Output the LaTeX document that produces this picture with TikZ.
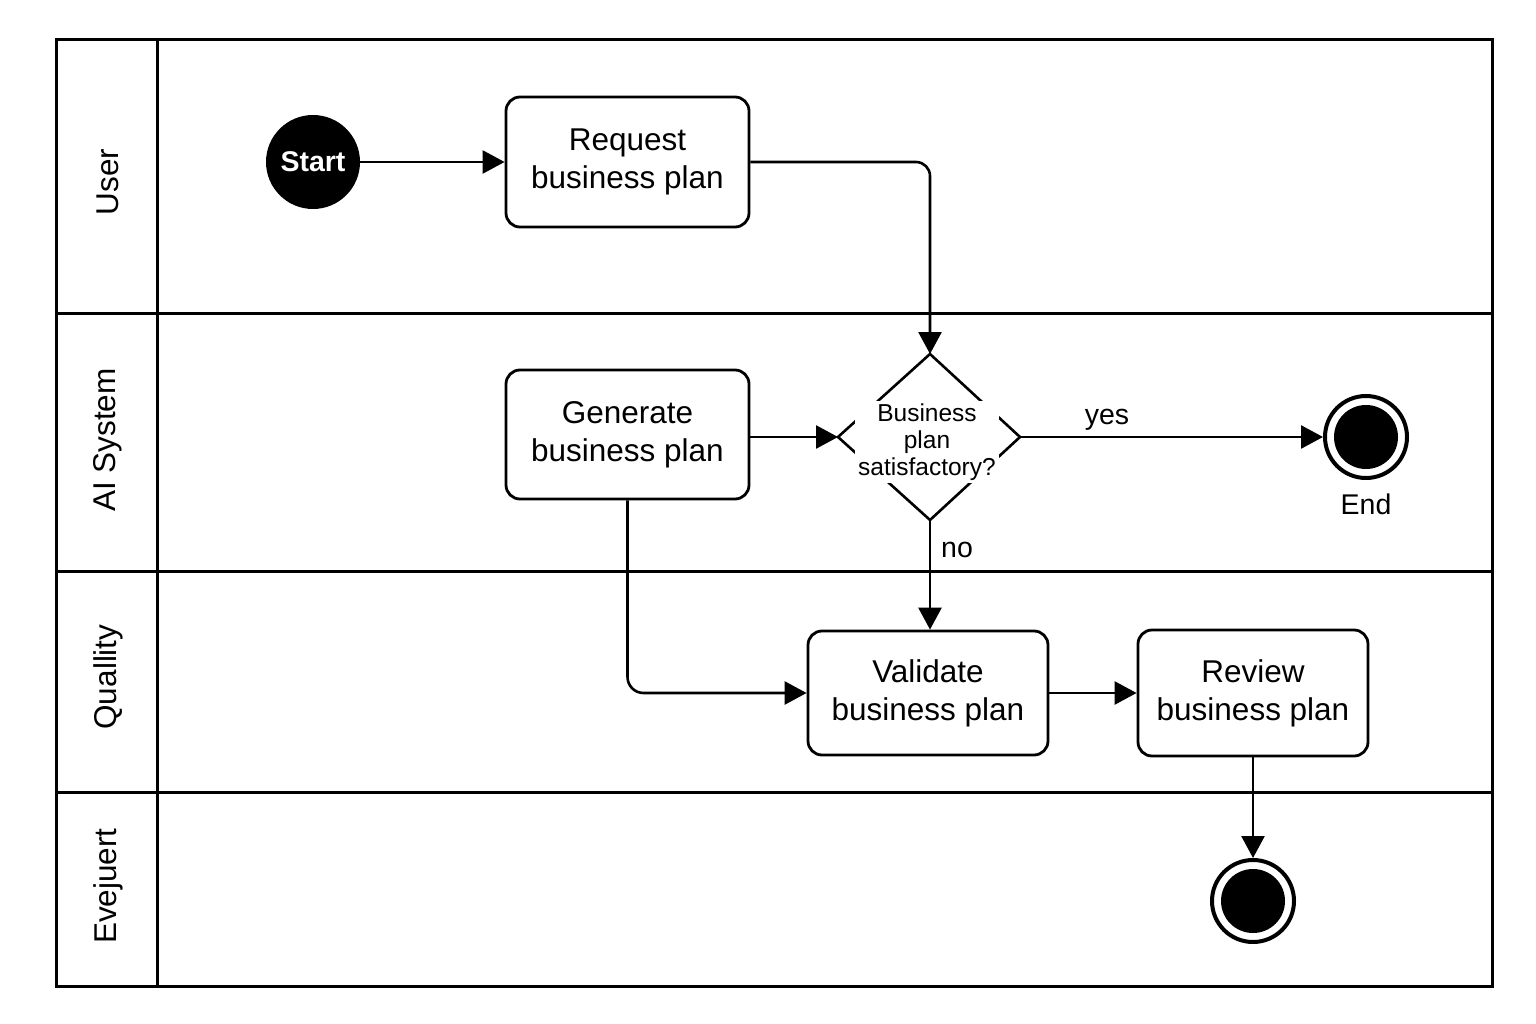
\documentclass[tikz,border=0pt]{standalone}
\usepackage{fontspec}
\setmainfont{Liberation Sans}
\usetikzlibrary{arrows.meta,shapes.geometric}
\begin{document}
\begin{tikzpicture}[x=1pt,y=-1pt,
  frame/.style={line width=3pt},
  actbox/.style={draw,line width=2.8pt,rounded corners=14pt,align=center,
    font=\fontsize{31.5}{38}\selectfont,inner sep=0pt},
  lanelabel/.style={rotate=90,font=\fontsize{31.5}{36}\selectfont},
  arr/.style={line width=2.6pt,-{Triangle[length=22pt,width=23pt]}},
  plainline/.style={line width=2.6pt},
  lbl/.style={font=\fontsize{28.5}{32}\selectfont},
  endring/.style={circle,draw,line width=4pt,minimum size=82pt,inner sep=0pt,fill=white}
]
\useasboundingbox (0,0) rectangle (1536,1024);
% swimlane frame
\draw[frame] (56,40) rectangle (1492,986);
\draw[frame] (157,40) -- (157,986);
\draw[frame] (56,313) -- (1492,313);
\draw[frame] (56,571) -- (1492,571);
\draw[frame] (56,792) -- (1492,792);
% lane labels
\node[lanelabel] (lu) at (108,182) {User};
\node[lanelabel] (la) at (108,440) {AI System};
\node[lanelabel] (lq) at (108,677) {Quallity};
\node[lanelabel] (le) at (108,886) {Evejuert};
% nodes
\node[circle,fill=black,minimum size=94pt,inner sep=0pt,text=white,
  font=\bfseries\fontsize{28.5}{32}\selectfont] (start) at (313,162) {Start};
\node[actbox,minimum width=243pt,minimum height=130pt] (req) at (627.5,162) {Request\\business plan};
\node[actbox,minimum width=243pt,minimum height=129pt] (gen) at (627.5,434.5) {Generate\\business plan};
\node[actbox,minimum width=240pt,minimum height=124pt] (val) at (928,693) {Validate\\business plan};
\node[actbox,minimum width=230pt,minimum height=126pt] (rev) at (1253,693) {Review\\business plan};
% decision diamond
\coordinate (dtop) at (930,354);
\coordinate (dright) at (1020,437);
\coordinate (dbot) at (930,520);
\coordinate (dleft) at (838,437);
\draw[plainline,line join=miter] (dtop) -- (dright) -- (dbot) -- (dleft) -- cycle;
\node[fill=white,align=center,inner sep=3pt,font=\fontsize{24.5}{27}\selectfont] (dtext) at (927,442) {Business\\plan\\satisfactory?};
% end nodes
\node[endring] (endc) at (1366,437) {};
\fill (endc.center) circle (32pt);
\node[lbl] (endl) at (1366,504) {End};
\node[endring] (fin) at (1253,901) {};
\fill (fin.center) circle (32pt);
% connectors
\draw[arr] (start) -- (req.west);
\draw[arr,rounded corners=14pt] (req.east) -| (dtop);
\draw[arr] (gen.east |- dleft) -- (dleft);
\draw[arr] (dright) -- (endc.west);
\node[lbl] (yes) at (1107,420) {yes};
\draw[arr] (dbot) -- (dbot |- val.north);
\node[lbl] (no) at (957,550) {no};
\draw[arr,rounded corners=16pt] (gen.south) |- (val.west);
\draw[arr] (val.east) -- (rev.west);
\draw[arr] (rev.south) -- (fin.north);
\end{tikzpicture}
\end{document}
